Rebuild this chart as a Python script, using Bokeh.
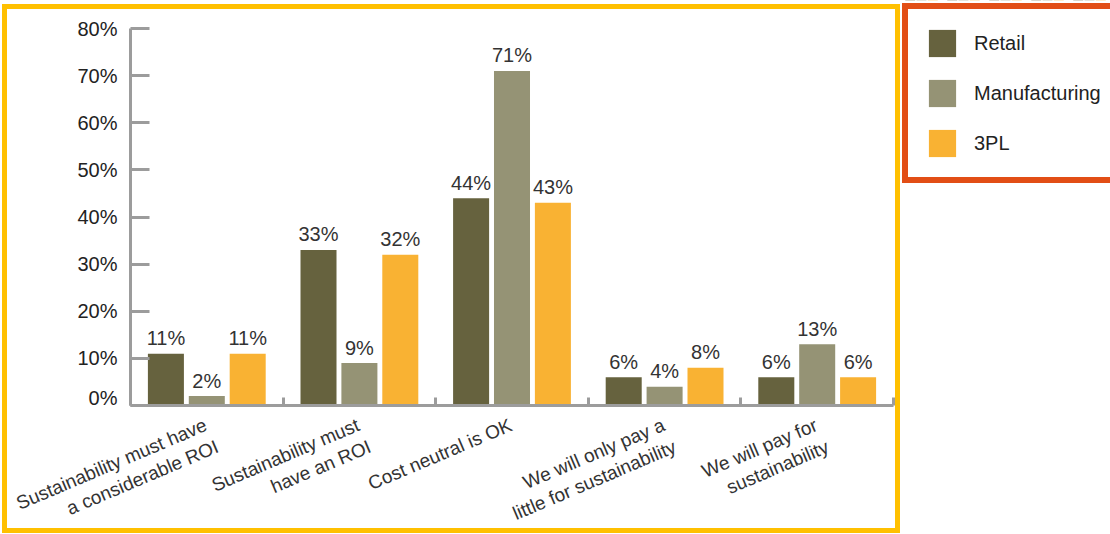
import math
from bokeh.plotting import figure
from bokeh.layouts import column, row
from bokeh.models import Range1d, FixedTicker, Legend, LegendItem, ColumnDataSource
from bokeh.core.properties import value
from bokeh.embed import file_html
from bokeh.resources import INLINE

# ---------------- data ----------------
categories = [
    "Sustainability must have\na considerable ROI",
    "Sustainability must\nhave an ROI",
    "Cost neutral is OK",
    "We will only pay a\nlittle for sustainability",
    "We will pay for\nsustainability",
]
series_names = ["Retail", "Manufacturing", "3PL"]
retail = [11, 33, 44, 6, 6]
manufacturing = [2, 9, 71, 4, 13]
tpl = [11, 32, 43, 8, 6]
y_ticks = [0, 10, 20, 30, 40, 50, 60, 70, 80]
y_tick_labels = ["0%", "10%", "20%", "30%", "40%", "50%", "60%", "70%", "80%"]

# ---------------- style / layout ----------------
colors = ["#66623E", "#959375", "#F9B233"]
FONT = "Liberation Sans"
FS = "20px"
CAT_FS = "19px"
BORDER = 5
M_TOP, M_LEFT = 4, 2
CW = 888                 # content width inside yellow border
CH = 519                 # content height inside yellow border
MAIN_H = 399
LAB_H = CH - MAIN_H
FL, FR, FT, FB = 123, 886, 19, 396
n = len(categories)
PXX = (FR - FL) / n
PXY = (FB - FT) / 80.0

p = figure(width=CW, height=MAIN_H, output_backend="svg", toolbar_location=None,
           x_range=Range1d(0, n), y_range=Range1d(0, 80),
           min_border_left=FL, min_border_right=CW - FR,
           min_border_top=FT, min_border_bottom=MAIN_H - FB)
p.outline_line_color = None
p.grid.visible = False

AX = "#9C9C9C"
for ax in (p.xaxis[0], p.yaxis[0]):
    ax.axis_line_color = AX
    ax.axis_line_width = 3
    ax.major_tick_line_color = AX
    ax.major_tick_line_width = 3
    ax.major_tick_out = 0
    ax.minor_tick_line_color = None

p.yaxis.ticker = FixedTicker(ticks=y_ticks)
p.yaxis.major_label_overrides = {t: l for t, l in zip(y_ticks, y_tick_labels)}
p.yaxis.major_tick_in = 19
p.yaxis.major_label_standoff = 13
p.yaxis.major_label_text_font = FONT
p.yaxis.major_label_text_font_size = FS
p.yaxis.major_label_text_color = "#222222"

xt = list(range(n + 1))
p.xaxis.ticker = FixedTicker(ticks=xt)
p.xaxis.major_label_overrides = {t: "" for t in xt}
p.xaxis.major_label_text_font_size = "0px"
p.xaxis.major_label_standoff = 0
p.xaxis.major_tick_in = 8

off = 0.268
bw = 0.236
centers = [i + 0.5 for i in range(n)]
sources = []
for k, (vals, col) in enumerate(zip([retail, manufacturing, tpl], colors)):
    xs = [c + (k - 1) * off for c in centers]
    src = ColumnDataSource(dict(x=xs, top=vals, ly=[v + 15.5 / PXY for v in vals],
                                txt=[f"{v}%" for v in vals]))
    sources.append(src)
    p.vbar(x="x", top="top", width=bw, source=src, fill_color=col, line_color=None)
    p.text(x="x", y="ly", text="txt", source=src,
           text_align="center", text_baseline="alphabetic",
           text_font=value(FONT), text_font_size=FS, text_color="#333333")

# ---------------- category label strip (same x scale as the main plot) ----------------
lab = figure(width=CW, height=LAB_H, output_backend="svg", toolbar_location=None,
             x_range=Range1d(-FL / PXX, (CW - FL) / PXX), y_range=Range1d(-LAB_H, 0),
             x_axis_location=None, y_axis_location=None,
             min_border_left=0, min_border_right=0, min_border_top=0, min_border_bottom=0)
lab.outline_line_color = None
lab.grid.visible = False

ANG = math.radians(23)
LINE = 24.5
SHIFT = 2.0
lx, ly, lt = [], [], []
for c, cat in zip(centers, categories):
    for j, line in enumerate(cat.split("\n")):
        dx = -1 + j * (LINE * math.sin(ANG) + SHIFT * math.cos(ANG))
        dy = 15.5 + j * (LINE * math.cos(ANG) - SHIFT * math.sin(ANG))
        lx.append(c + dx / PXX)
        ly.append(-dy)
        lt.append(line)
lab.text(x=lx, y=ly, text=lt, angle=ANG, text_align="right", text_baseline="middle",
         text_font=value(FONT), text_font_size=CAT_FS, text_color="#333333")

# ---------------- legend panel ----------------
LG_W = 1110 - (M_LEFT + CW + 2 * BORDER)
LG_H = 188
lg = figure(width=LG_W, height=LG_H, output_backend="svg", toolbar_location=None,
            x_range=Range1d(0, n), y_range=Range1d(-2, -1),
            x_axis_location=None, y_axis_location=None,
            min_border_left=0, min_border_right=0, min_border_top=0, min_border_bottom=0)
lg.outline_line_color = None
lg.grid.visible = False
lg.background_fill_color = None
lg.border_fill_color = None
# same data, outside this panel's visible range: only the legend swatches show
lg_r = [lg.vbar(x="x", top="top", width=bw, source=s, fill_color=c, line_color=None)
        for s, c in zip(sources, colors)]
GLY = 34
legend = Legend(items=[LegendItem(label=nm, renderers=[r]) for nm, r in zip(series_names, lg_r)],
                location=(2, 5), orientation="vertical", padding=17, spacing=16,
                glyph_width=GLY, glyph_height=GLY, label_height=GLY, label_standoff=15,
                label_text_font=FONT, label_text_font_size=FS, label_text_color="#222222",
                border_line_color="#E24E16", border_line_width=6, border_line_alpha=1.0,
                background_fill_color="white", background_fill_alpha=1.0, margin=0)
lg.add_layout(legend, "center")

chart = column(row(p), row(lab), spacing=0,
               styles={"border": f"{BORDER}px solid #FFC000",
                       "margin-top": f"{M_TOP}px", "margin-left": f"{M_LEFT}px"})
page = row(chart, lg, spacing=0)

open("out.html", "w").write(file_html(page, INLINE))
